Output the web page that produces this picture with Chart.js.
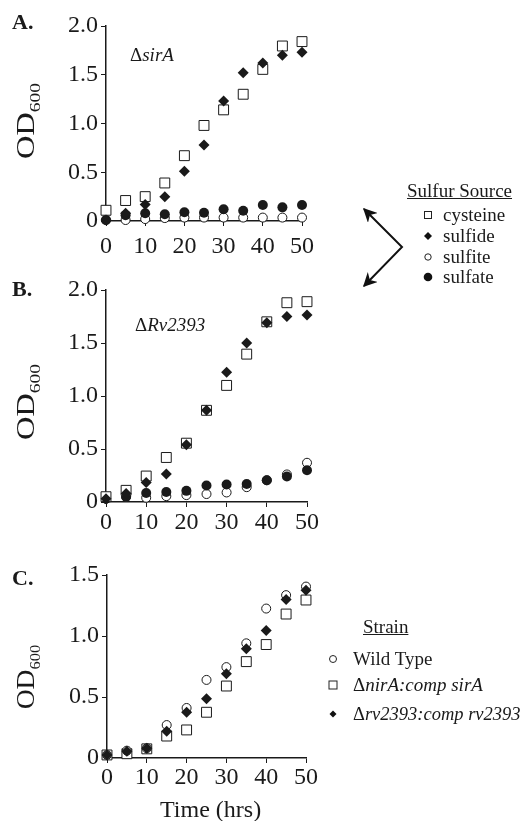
<!DOCTYPE html>
<html>
<head>
<meta charset="utf-8">
<script src="https://cdn.jsdelivr.net/npm/chart.js@4.4.1/dist/chart.umd.min.js"></script>
<style>
  html, body { margin: 0; padding: 0; background: #fff; }
  body { width: 523px; height: 821px; position: relative; overflow: hidden;
         font-family: "Liberation Serif", "Times New Roman", serif; color: #1a1a1a; }
  canvas.panel { position: absolute; left: 0; top: 0; }
  .t { position: absolute; white-space: nowrap; line-height: 24px; }
  .letter { font-weight: bold; font-size: 22px; }
  .od { font-size: 25px; transform-origin: center center; }
  .od sub { font-size: 15px; vertical-align: -6px; }
  .leg { font-size: 19px; }
  .leg svg { position: absolute; left: 0; top: 6px; }
</style>
</head>
<body>
<canvas class="panel" id="chartA" width="523" height="821"></canvas>
<canvas class="panel" id="chartB" width="523" height="821"></canvas>
<canvas class="panel" id="chartC" width="523" height="821"></canvas>

<div class="t letter" style="left:12px;top:10px;">A.</div>
<div class="t letter" style="left:12px;top:277px;">B.</div>
<div class="t letter" style="left:12px;top:566px;">C.</div>

<div class="t od" style="left:30px;top:121px;transform:translate(-50%,-50%) rotate(-90deg) scaleX(1.3);">OD<sub>600</sub></div>
<div class="t od" style="left:30px;top:402px;transform:translate(-50%,-50%) rotate(-90deg) scaleX(1.3);">OD<sub>600</sub></div>
<div class="t od" style="left:30px;top:677px;transform:translate(-50%,-50%) rotate(-90deg) scaleX(1.1);">OD<sub>600</sub></div>

<div class="t leg" style="left:130px;top:43px;">&Delta;<i>sirA</i></div>
<div class="t leg" style="left:135px;top:313px;">&Delta;<i>Rv2393</i></div>

<div class="t" style="left:160px;top:797px;font-size:24px;">Time (hrs)</div>

<!-- sulfur source legend -->
<div class="t leg" style="left:407px;top:179px;text-decoration:underline;">Sulfur Source</div>
<div class="t leg" style="left:422px;top:203px;padding-left:21px;"><svg width="12" height="12"><rect x="2.5" y="2.5" width="7" height="7" fill="#fff" stroke="#222"/></svg>cysteine</div>
<div class="t leg" style="left:422px;top:224px;padding-left:21px;"><svg width="12" height="12"><path d="M6 2 L10 6 L6 10 L2 6 Z" fill="#111"/></svg>sulfide</div>
<div class="t leg" style="left:422px;top:245px;padding-left:21px;"><svg width="12" height="12"><circle cx="6" cy="6" r="3.2" fill="#fff" stroke="#222"/></svg>sulfite</div>
<div class="t leg" style="left:422px;top:265px;padding-left:21px;"><svg width="12" height="12"><circle cx="6" cy="6" r="4.3" fill="#111"/></svg>sulfate</div>

<svg style="position:absolute;left:0;top:0;" width="523" height="821">
  <defs>
    <marker id="ah" viewBox="0 0 10 10" refX="9" refY="5" markerWidth="7" markerHeight="7" orient="auto-start-reverse">
      <path d="M0 0 L10 5 L0 10 L3 5 Z" fill="#111"/>
    </marker>
  </defs>
  <path d="M364 209 L402 247 L364 286" fill="none" stroke="#111" stroke-width="2"
        marker-start="url(#ah)" marker-end="url(#ah)"/>
</svg>

<!-- strain legend -->
<div class="t leg" style="left:363px;top:615px;text-decoration:underline;">Strain</div>
<div class="t leg" style="left:327px;top:647px;padding-left:26px;"><svg width="12" height="12"><circle cx="6" cy="6" r="3.5" fill="#fff" stroke="#222"/></svg>Wild Type</div>
<div class="t leg" style="left:327px;top:673px;padding-left:26px;"><svg width="12" height="12"><rect x="2" y="2" width="8" height="8" fill="#fff" stroke="#222"/></svg>&Delta;<i>nirA:comp sirA</i></div>
<div class="t leg" style="left:327px;top:702px;padding-left:26px;font-size:18.5px;"><svg width="12" height="12"><path d="M6 2.5 L9.5 6 L6 9.5 L2.5 6 Z" fill="#111"/></svg>&Delta;<i>rv2393:comp rv2393</i></div>

<script>
const hours = [0, 5, 10, 15, 20, 25, 30, 35, 40, 45, 50];

// Panel A: delta sirA
const aCysteine = [0.11, 0.21, 0.25, 0.39, 0.67, 0.98, 1.14, 1.30, 1.555, 1.795, 1.84];
const aSulfide  = [0.01, 0.08, 0.17, 0.25, 0.51, 0.78, 1.23, 1.52, 1.62, 1.70, 1.73];
const aSulfite  = [0.01, 0.01, 0.02, 0.03, 0.035, 0.035, 0.035, 0.035, 0.035, 0.035, 0.035];
const aSulfate  = [0.01, 0.06, 0.08, 0.07, 0.09, 0.085, 0.12, 0.105, 0.165, 0.14, 0.165];

// Panel B: delta Rv2393
const bCysteine = [0.05, 0.11, 0.245, 0.42, 0.555, 0.865, 1.10, 1.395, 1.70, 1.88, 1.89];
const bSulfide  = [0.03, 0.08, 0.185, 0.265, 0.54, 0.865, 1.225, 1.50, 1.69, 1.75, 1.765];
const bSulfite  = [0.03, 0.05, 0.04, 0.055, 0.065, 0.075, 0.09, 0.14, 0.205, 0.26, 0.37];
const bSulfate  = [0.03, 0.05, 0.085, 0.095, 0.105, 0.155, 0.165, 0.17, 0.205, 0.24, 0.30];

// Panel C: complemented strains
const cWildType  = [0.025, 0.06, 0.08, 0.27, 0.41, 0.64, 0.745, 0.94, 1.225, 1.335, 1.405];
const cNirAComp  = [0.025, 0.035, 0.075, 0.18, 0.23, 0.375, 0.59, 0.79, 0.93, 1.18, 1.295];
const cRv2393Comp = [0.025, 0.055, 0.08, 0.22, 0.375, 0.485, 0.69, 0.895, 1.045, 1.30, 1.375];

const yTicksAB = [0, 0.5, 1.0, 1.5, 2.0];
const yTicksC  = [0, 0.5, 1.0, 1.5];

const INK = '#1a1a1a';
const FONT = '"Liberation Serif", "Times New Roman", serif';

function pts(arr) { return hours.map((h, i) => ({ x: h, y: arr[i] })); }

const styles = {
  square:  { pointStyle: 'rect',    pointRadius: 7,   backgroundColor: '#fff', borderColor: INK, borderWidth: 1 },
  diamond: { pointStyle: 'rectRot', pointRadius: 5.5, backgroundColor: INK,    borderColor: INK, borderWidth: 0 },
  open:    { pointStyle: 'circle',  pointRadius: 4.5, backgroundColor: '#fff', borderColor: INK, borderWidth: 1 },
  filled:  { pointStyle: 'circle',  pointRadius: 5,   backgroundColor: INK,    borderColor: INK, borderWidth: 0 },
};

function ds(label, arr, st) {
  return Object.assign({ label, data: pts(arr), showLine: false, clip: false, pointHoverRadius: 0 }, styles[st]);
}

// box = chart area in page pixels, xPad = gap between x ticks and labels
function makeChart(id, box, yMax, yLabels, xPad, datasets) {
  const xh = 40;
  new Chart(document.getElementById(id), {
    type: 'scatter',
    data: { datasets },
    options: {
      responsive: false, animation: false,
      layout: { padding: { left: 0, top: box.top, right: 523 - box.right, bottom: 821 - box.bottom - xh } },
      plugins: { legend: { display: false }, tooltip: { enabled: false } },
      scales: {
        x: {
          type: 'linear', min: 0, max: 50,
          afterFit: s => { s.height = xh; },
          ticks: { stepSize: 10, color: INK, font: { family: FONT, size: 24 }, padding: xPad, maxRotation: 0 },
          grid: { drawOnChartArea: false, drawTicks: true, tickLength: 5, color: INK, lineWidth: 1 },
          border: { display: true, color: INK, width: 1.5 },
        },
        y: {
          type: 'linear', min: 0, max: yMax,
          afterFit: s => { s.width = box.left; },
          ticks: {
            stepSize: 0.25, color: INK, font: { family: FONT, size: 24 }, padding: 3,
            callback: v => {
              const hit = yLabels.find(t => Math.abs(t - v) < 1e-6);
              if (hit === undefined) return '';
              return hit === 0 ? '0' : hit.toFixed(1);
            },
          },
          grid: { drawOnChartArea: false, drawTicks: true, tickLength: 5, color: INK, lineWidth: 1 },
          border: { display: true, color: INK, width: 1.5 },
        },
      },
    },
  });
}

makeChart('chartA', { left: 106, right: 302, top: 26, bottom: 221 }, 2.0, yTicksAB, 6, [
  ds('sulfide', aSulfide, 'diamond'),
  ds('cysteine', aCysteine, 'square'),
  ds('sulfate', aSulfate, 'filled'),
  ds('sulfite', aSulfite, 'open'),
]);

makeChart('chartB', { left: 106, right: 307, top: 290, bottom: 502 }, 2.0, yTicksAB, 1, [
  ds('sulfide', bSulfide, 'diamond'),
  ds('cysteine', bCysteine, 'square'),
  ds('sulfate', bSulfate, 'filled'),
  ds('sulfite', bSulfite, 'open'),
]);

makeChart('chartC', { left: 107, right: 306, top: 575, bottom: 758 }, 1.5, yTicksC, 0, [
  ds('rv2393:comp rv2393', cRv2393Comp, 'diamond'),
  ds('Wild Type', cWildType, 'open'),
  ds('nirA:comp sirA', cNirAComp, 'square'),
]);
</script>
</body>
</html>
